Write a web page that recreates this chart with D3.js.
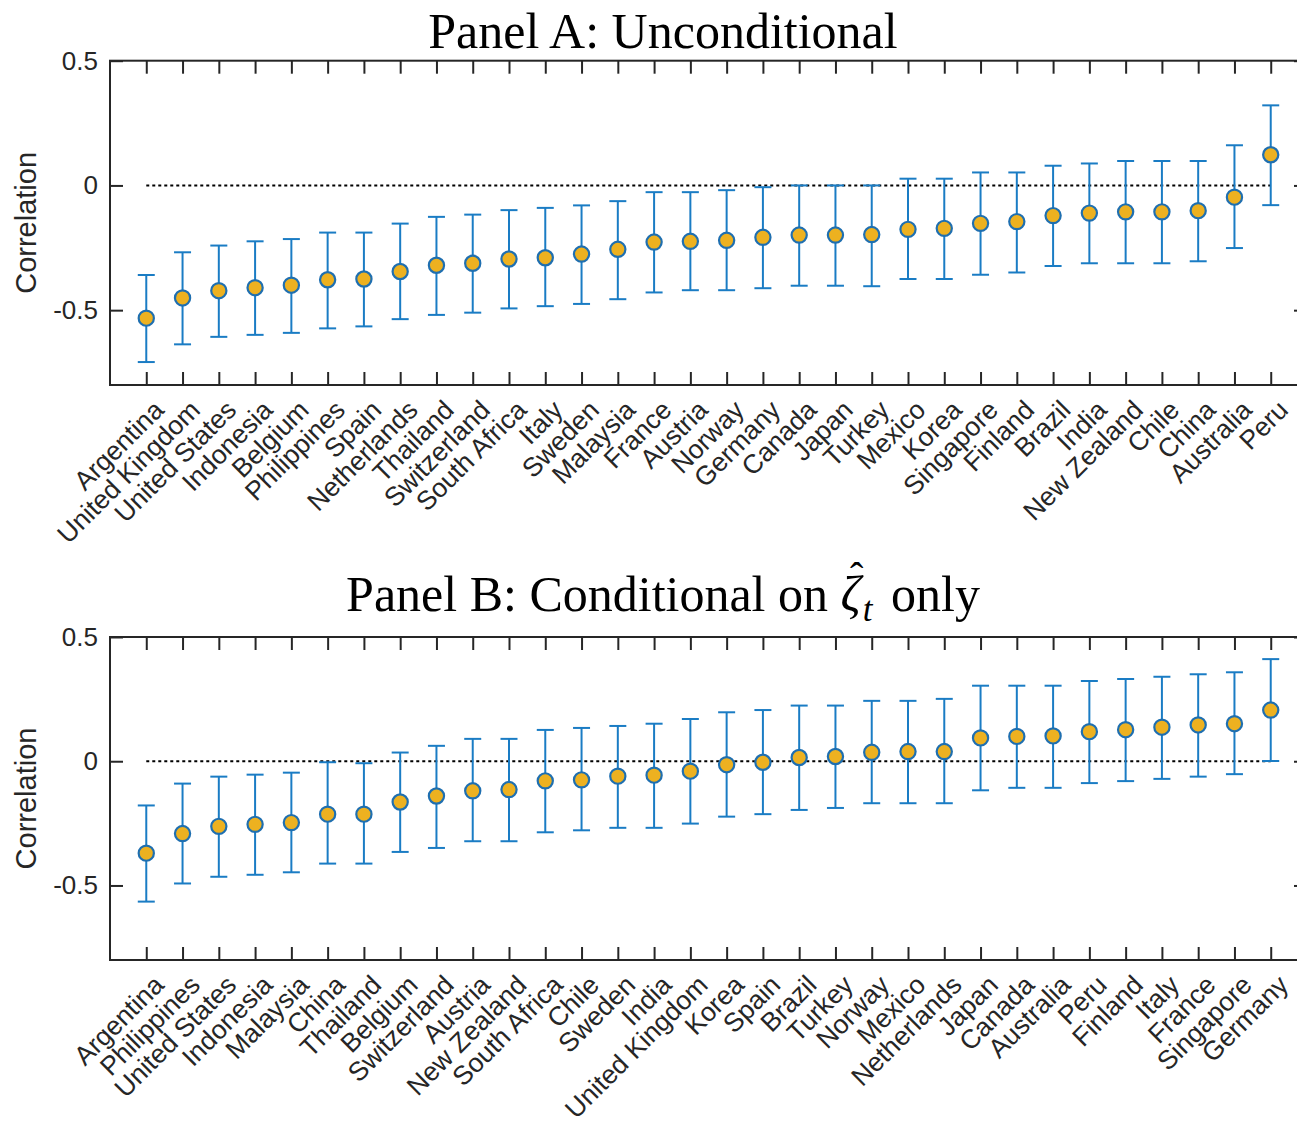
<!DOCTYPE html>
<html>
<head>
<meta charset="utf-8">
<script src="https://cdn.jsdelivr.net/npm/d3@7"></script>
<style>
  html, body { margin: 0; padding: 0; background: #fff; }
  svg { display: block; }
</style>
</head>
<body>
<svg id="chart" width="1297" height="1125"></svg>
<script>
// ---------- Data ----------
const countriesA = ["Argentina","United Kingdom","United States","Indonesia","Belgium","Philippines","Spain","Netherlands","Thailand","Switzerland","South Africa","Italy","Sweden","Malaysia","France","Austria","Norway","Germany","Canada","Japan","Turkey","Mexico","Korea","Singapore","Finland","Brazil","India","New Zealand","Chile","China","Australia","Peru"];
const estA  = [-0.532,-0.451,-0.422,-0.410,-0.400,-0.378,-0.375,-0.345,-0.320,-0.312,-0.295,-0.290,-0.275,-0.256,-0.227,-0.224,-0.220,-0.208,-0.199,-0.199,-0.197,-0.176,-0.172,-0.152,-0.145,-0.121,-0.111,-0.106,-0.106,-0.101,-0.047,0.123];
const lowA  = [-0.708,-0.637,-0.607,-0.599,-0.591,-0.573,-0.565,-0.536,-0.519,-0.510,-0.493,-0.484,-0.475,-0.456,-0.429,-0.420,-0.420,-0.412,-0.402,-0.402,-0.404,-0.375,-0.375,-0.358,-0.349,-0.323,-0.312,-0.312,-0.312,-0.304,-0.251,-0.079];
const highA = [-0.359,-0.268,-0.241,-0.224,-0.215,-0.189,-0.189,-0.153,-0.126,-0.117,-0.099,-0.090,-0.080,-0.063,-0.027,-0.027,-0.019,-0.007,0.000,0.000,0.000,0.027,0.027,0.052,0.052,0.079,0.088,0.098,0.098,0.098,0.161,0.321];

const countriesB = ["Argentina","Philippines","United States","Indonesia","Malaysia","China","Thailand","Belgium","Switzerland","Austria","New Zealand","South Africa","Chile","Sweden","India","United Kingdom","Korea","Spain","Brazil","Turkey","Norway","Mexico","Netherlands","Japan","Canada","Australia","Peru","Finland","Italy","France","Singapore","Germany"];
const estB  = [-0.370,-0.291,-0.262,-0.254,-0.247,-0.213,-0.213,-0.164,-0.140,-0.119,-0.114,-0.079,-0.075,-0.060,-0.056,-0.040,-0.014,-0.004,0.015,0.019,0.036,0.039,0.039,0.094,0.100,0.102,0.119,0.127,0.137,0.146,0.151,0.206];
const lowB  = [-0.565,-0.492,-0.465,-0.457,-0.447,-0.412,-0.412,-0.365,-0.349,-0.322,-0.322,-0.286,-0.278,-0.268,-0.268,-0.251,-0.223,-0.213,-0.196,-0.188,-0.169,-0.169,-0.169,-0.117,-0.107,-0.107,-0.088,-0.080,-0.071,-0.062,-0.052,0.001];
const highB = [-0.178,-0.090,-0.062,-0.054,-0.046,-0.004,-0.008,0.035,0.062,0.090,0.090,0.126,0.134,0.142,0.151,0.170,0.197,0.206,0.224,0.224,0.243,0.243,0.251,0.304,0.304,0.304,0.323,0.331,0.340,0.350,0.358,0.411];

const yTicks = [-0.5, 0, 0.5];
const yTickLabels = ["-0.5", "0", "0.5"];
const titleA = "Panel A: Unconditional";
const titleBPrefix = "Panel B: Conditional on ";
const titleBSymbol = "\u03B6";
const titleBSub = "t";
const titleBSuffix = " only";
const yLabel = "Correlation";

// ---------- Styles ----------
const axisColor = "#262626";
const barColor = "#1a7cc4";
const markerFill = "#EDB120";
const markerEdge = "#1f6fb0";
const sans = "'Liberation Sans', Arial, sans-serif";
const serif = "'Liberation Serif', 'Times New Roman', serif";

const svg = d3.select("#chart");

function panel(opts) {
  const { countries, est, low, high, top, bottom } = opts;
  const left = 110, right = 1307;
  const n = countries.length;
  const x = d3.scaleLinear().domain([0, n + 1]).range([left, right]);
  const y = d3.scaleLinear().domain([-0.8, 0.5]).range([bottom, top]);
  const g = svg.append("g");

  // zero reference line
  g.append("line")
    .attr("x1", x(1)).attr("x2", x(n))
    .attr("y1", y(0)).attr("y2", y(0))
    .attr("stroke", "#000").attr("stroke-width", 2)
    .attr("stroke-dasharray", "3,3");

  const idx = d3.range(n);

  // error bars
  const eb = g.append("g").attr("stroke", barColor).attr("stroke-width", 2).attr("fill", "none");
  eb.selectAll("line.v").data(idx).join("line").attr("class", "v")
    .attr("x1", i => x(i + 1)).attr("x2", i => x(i + 1))
    .attr("y1", i => y(low[i])).attr("y2", i => y(high[i]));
  eb.selectAll("line.lo").data(idx).join("line").attr("class", "lo")
    .attr("x1", i => x(i + 1) - 8.5).attr("x2", i => x(i + 1) + 8.5)
    .attr("y1", i => y(low[i])).attr("y2", i => y(low[i]));
  eb.selectAll("line.hi").data(idx).join("line").attr("class", "hi")
    .attr("x1", i => x(i + 1) - 8.5).attr("x2", i => x(i + 1) + 8.5)
    .attr("y1", i => y(high[i])).attr("y2", i => y(high[i]));

  // markers
  g.append("g").selectAll("circle").data(idx).join("circle")
    .attr("cx", i => x(i + 1)).attr("cy", i => y(est[i]))
    .attr("r", 7.6)
    .attr("fill", markerFill).attr("stroke", markerEdge).attr("stroke-width", 2.2);

  // axes (ticks inward)
  const tickVals = d3.range(1, n + 1);
  const axB = g.append("g").attr("transform", `translate(0,${bottom})`)
    .call(d3.axisBottom(x).tickValues(tickVals).tickSizeInner(-13).tickSizeOuter(0)
      .tickFormat(d => countries[d - 1]));
  const axT = g.append("g").attr("transform", `translate(0,${top})`)
    .call(d3.axisTop(x).tickValues(tickVals).tickSizeInner(-13).tickSizeOuter(0).tickFormat(""));
  const axL = g.append("g").attr("transform", `translate(${left},0)`)
    .call(d3.axisLeft(y).tickValues(yTicks).tickSizeInner(-13).tickSizeOuter(0).tickPadding(12)
      .tickFormat((d, i) => yTickLabels[i]));
  const axR = g.append("g").attr("transform", `translate(${right},0)`)
    .call(d3.axisRight(y).tickValues(yTicks).tickSizeInner(-13).tickSizeOuter(0).tickFormat(""));

  [axB, axT, axL, axR].forEach(a => {
    a.select(".domain").remove();
    a.selectAll(".tick line").attr("stroke", axisColor).attr("stroke-width", 2);
  });
  axL.selectAll("text").attr("font-family", sans).attr("font-size", 26).attr("fill", axisColor);
  axB.selectAll("text")
    .attr("font-family", sans).attr("font-size", 26.5).attr("fill", axisColor)
    .attr("text-anchor", "end")
    .attr("x", 0).attr("y", 0).attr("dy", "0.35em")
    .attr("transform", "translate(12,20) rotate(-45)");

  // box
  g.append("rect")
    .attr("x", left).attr("y", top).attr("width", right - left).attr("height", bottom - top)
    .attr("fill", "none").attr("stroke", axisColor).attr("stroke-width", 2);

  // y label
  g.append("text")
    .attr("transform", `translate(36,${(top + bottom) / 2}) rotate(-90)`)
    .attr("text-anchor", "middle")
    .attr("font-family", sans).attr("font-size", 29).attr("fill", axisColor)
    .text(yLabel);
}

panel({ countries: countriesA, est: estA, low: lowA, high: highA, top: 60.7, bottom: 385 });
panel({ countries: countriesB, est: estB, low: lowB, high: highB, top: 637, bottom: 960 });

// titles
svg.append("text")
  .attr("x", 663).attr("y", 48)
  .attr("text-anchor", "middle")
  .attr("font-family", serif).attr("font-size", 50).attr("fill", "#000")
  .text(titleA);

const tB = svg.append("text")
  .attr("x", 663).attr("y", 611)
  .attr("text-anchor", "middle")
  .attr("font-family", serif).attr("font-size", 50).attr("fill", "#000");
tB.append("tspan").text(titleBPrefix);
tB.append("tspan").attr("font-style", "italic").text(titleBSymbol);
tB.append("tspan").attr("font-style", "italic").attr("font-size", 35).attr("dx", 2).attr("dy", 10).text(titleBSub);
tB.append("tspan").attr("dx", 6).attr("dy", -10).text(titleBSuffix);

// hat above zeta
const tn = tB.node();
const zi = titleBPrefix.length;
const zs = tn.getStartPositionOfChar(zi).x;
const ze = tn.getEndPositionOfChar(zi).x;
svg.append("text")
  .attr("x", (zs + ze) / 2 + 6).attr("y", 611 - 21)
  .attr("text-anchor", "middle")
  .attr("font-family", serif).attr("font-size", 40).attr("fill", "#000")
  .text("\u02C6");
</script>
</body>
</html>
